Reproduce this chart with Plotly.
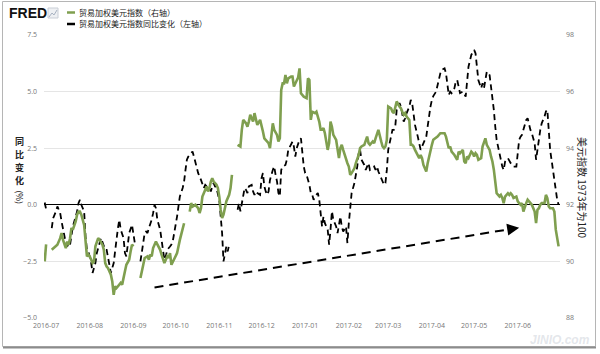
import plotly.graph_objects as go

# ---------------- data ----------------
green_dates = [
    "2016-06-30", "2016-07-01", "2016-07-04",
    "2016-07-05", "2016-07-09", "2016-07-11", "2016-07-12", "2016-07-13", "2016-07-15", "2016-07-16",
    "2016-07-17", "2016-07-18", "2016-07-19", "2016-07-20", "2016-07-22", "2016-07-23", "2016-07-24",
    "2016-07-25", "2016-07-26", "2016-07-28", "2016-07-29", "2016-07-30", "2016-07-31", "2016-08-01",
    "2016-08-03", "2016-08-04", "2016-08-05", "2016-08-06", "2016-08-07", "2016-08-08", "2016-08-10",
    "2016-08-11", "2016-08-12", "2016-08-13", "2016-08-14", "2016-08-16", "2016-08-17", "2016-08-18",
    "2016-08-19", "2016-08-20", "2016-08-22", "2016-08-23", "2016-08-24", "2016-08-25", "2016-08-26",
    "2016-08-27", "2016-08-29", "2016-08-30", "2016-08-31", "2016-09-01", "2016-09-05",
    "2016-09-06", "2016-09-07", "2016-09-08", "2016-09-09", "2016-09-11", "2016-09-12", "2016-09-13",
    "2016-09-14", "2016-09-15", "2016-09-17", "2016-09-18", "2016-09-19", "2016-09-20", "2016-09-21",
    "2016-09-23", "2016-09-24", "2016-09-25", "2016-09-26", "2016-09-27", "2016-09-28", "2016-09-30",
    "2016-10-02", "2016-10-04", "2016-10-06", "2016-10-07", "2016-10-10",
    "2016-10-11", "2016-10-12", "2016-10-13", "2016-10-15", "2016-10-17", "2016-10-18", "2016-10-19",
    "2016-10-20", "2016-10-21", "2016-10-23", "2016-10-24", "2016-10-25", "2016-10-26", "2016-10-27",
    "2016-10-28", "2016-10-30", "2016-10-31", "2016-11-01", "2016-11-02", "2016-11-03", "2016-11-04",
    "2016-11-05", "2016-11-06", "2016-11-08", "2016-11-09", "2016-11-10", "2016-11-11",
    "2016-11-14", "2016-11-16", "2016-11-17", "2016-11-18", "2016-11-20", "2016-11-21", "2016-11-22",
    "2016-11-23", "2016-11-24", "2016-11-25", "2016-11-26", "2016-11-27", "2016-11-28", "2016-11-30",
    "2016-12-01", "2016-12-02", "2016-12-03", "2016-12-05", "2016-12-06", "2016-12-07", "2016-12-08",
    "2016-12-09", "2016-12-10", "2016-12-12", "2016-12-13", "2016-12-14", "2016-12-15", "2016-12-16",
    "2016-12-17", "2016-12-18", "2016-12-19", "2016-12-20", "2016-12-22", "2016-12-23", "2016-12-24",
    "2016-12-25", "2016-12-27", "2016-12-28", "2016-12-29", "2016-12-31",
    "2017-01-02", "2017-01-03", "2017-01-04", "2017-01-05", "2017-01-06", "2017-01-08", "2017-01-09",
    "2017-01-11", "2017-01-12", "2017-01-13", "2017-01-14", "2017-01-15", "2017-01-17", "2017-01-18",
    "2017-01-19", "2017-01-20", "2017-01-21", "2017-01-23", "2017-01-24", "2017-01-25", "2017-01-26",
    "2017-01-27", "2017-01-28", "2017-01-30", "2017-01-31",
    "2017-02-01", "2017-02-02", "2017-02-03", "2017-02-05", "2017-02-06", "2017-02-07", "2017-02-08",
    "2017-02-09", "2017-02-10", "2017-02-12", "2017-02-13", "2017-02-14", "2017-02-15", "2017-02-16",
    "2017-02-18", "2017-02-19", "2017-02-20", "2017-02-21", "2017-02-22", "2017-02-24", "2017-02-25",
    "2017-02-26", "2017-02-27", "2017-02-28",
    "2017-03-01", "2017-03-03", "2017-03-04", "2017-03-05", "2017-03-06", "2017-03-07", "2017-03-09",
    "2017-03-10", "2017-03-11", "2017-03-12", "2017-03-13", "2017-03-14", "2017-03-16", "2017-03-17",
    "2017-03-18", "2017-03-19", "2017-03-20", "2017-03-22", "2017-03-23", "2017-03-24", "2017-03-25",
    "2017-03-26", "2017-03-28", "2017-03-29", "2017-03-30", "2017-03-31",
    "2017-04-01", "2017-04-02", "2017-04-05", "2017-04-07", "2017-04-10", "2017-04-11", "2017-04-12",
    "2017-04-13", "2017-04-14", "2017-04-15", "2017-04-17", "2017-04-18", "2017-04-19", "2017-04-20",
    "2017-04-21", "2017-04-23", "2017-04-24", "2017-04-25", "2017-04-26", "2017-04-27", "2017-04-29",
    "2017-04-30",
    "2017-05-01", "2017-05-02", "2017-05-03", "2017-05-04", "2017-05-06", "2017-05-07", "2017-05-08",
    "2017-05-09", "2017-05-10", "2017-05-12", "2017-05-13", "2017-05-14", "2017-05-15", "2017-05-16",
    "2017-05-17", "2017-05-19", "2017-05-20", "2017-05-21", "2017-05-22", "2017-05-23", "2017-05-25",
    "2017-05-26", "2017-05-27", "2017-05-28", "2017-05-29", "2017-05-31",
    "2017-06-01", "2017-06-02", "2017-06-03", "2017-06-04", "2017-06-05", "2017-06-07", "2017-06-08",
    "2017-06-09", "2017-06-10", "2017-06-11", "2017-06-13", "2017-06-14", "2017-06-15", "2017-06-16",
    "2017-06-17", "2017-06-18", "2017-06-20", "2017-06-21", "2017-06-22", "2017-06-23", "2017-06-24",
    "2017-06-26", "2017-06-27", "2017-06-28", "2017-06-30",
]
green_values = [
    90.00, 90.60, None,
    90.41, 90.59, 90.82, 91.00, 90.76, 90.47, 90.70,
    90.59, 90.82, 91.18, 91.12, 91.41, 91.65, 91.76,
    91.76, 91.65, 91.29, 90.70, 90.18, 90.24, 90.18,
    89.94, 90.00, 90.53, 90.70, 90.82, 90.76, 90.59,
    90.41, 89.94, 89.82, 89.76, 89.53, 89.29, 88.82,
    89.12, 89.06, 89.18, 89.24, 89.18, 89.47, 89.65,
    89.88, 90.06, 90.35, 90.59, 90.53, None,
    89.41, 89.71, 89.88, 90.12, 90.18, 90.06, 90.24,
    90.18, 90.47, 90.70, 90.59, 90.53, 90.41, 90.24,
    89.94, 90.06, 90.18, 90.12, 90.29, 89.88, 90.06,
    90.29, 90.76, 91.23, 91.35, None,
    91.76, 92.06, 91.94, 92.00, 91.88, 91.71, 91.88,
    92.29, 92.41, 92.65, 92.47, 92.59, 92.82, 92.94,
    92.82, 92.71, 92.59, 92.29, 91.82, 91.53, 91.65,
    91.88, 92.12, 92.35, 92.59, 93.06, None,
    94.12, 94.06, 94.65, 95.00, 94.88, 94.76, 94.94,
    95.18, 95.06, 94.94, 95.24, 95.00, 94.82, 95.00,
    94.82, 94.59, 94.35, 94.24, 94.18, 94.00, 94.41,
    94.88, 94.65, 94.47, 94.24, 94.35, 96.06, 96.29,
    96.29, 96.59, 96.29, 96.47, 96.53, 96.53, 96.18,
    96.30, 96.50, 96.82, 95.94, 95.82,
    95.77, 96.47, 96.41, 95.00, 95.29, 95.24, 95.29,
    94.94, 94.65, 94.65, 94.71, 94.53, 93.94, 94.18,
    94.94, 94.76, 94.47, 94.29, 93.88, 93.65, 94.00,
    94.12, 93.94, 93.59, 93.47,
    93.35, 93.06, 93.12, 93.29, 93.47, 93.59, 93.76,
    94.00, 94.06, 94.12, 94.24, 94.41, 94.18, 94.12,
    94.24, 94.18, 94.35, 94.53, 94.65, 94.24, 94.06,
    94.00, 94.06, 94.29,
    95.47, 95.41, 95.29, 95.24, 95.41, 95.65, 95.47,
    95.41, 95.29, 95.18, 95.24, 95.12, 95.00, 94.12,
    94.12, 94.06, 93.94, 93.71, 93.65, 93.76, 93.65,
    93.41, 93.18, 93.47, 93.71, 93.94,
    94.12, 94.30, 94.41, 94.53, 94.53, 94.41, 94.24,
    94.00, 94.06, 93.88, 93.76, 93.65, 93.59, 93.88,
    93.82, 93.94, 93.53, 93.47, 93.71, 93.65, 93.88,
    93.82,
    93.71, 93.82, 93.76, 93.59, 93.65, 94.06, 94.18,
    94.35, 94.12, 93.94, 93.71, 93.53, 93.24, 92.77,
    92.41, 92.29, 92.35, 92.24, 92.06, 92.29, 92.41,
    92.35, 92.41, 92.35, 92.24, 92.29,
    92.12, 92.06, 92.00, 92.06, 91.76, 92.06, 92.18,
    92.12, 92.06, 92.00, 91.76, 91.35, 91.82, 91.88,
    92.00, 92.06, 92.06, 92.35, 92.24, 91.94, 91.88,
    91.88, 91.76, 91.12, 90.53,
]

black_dates = [
    "2016-06-30", "2016-07-01", "2016-07-04",
    "2016-07-05", "2016-07-06", "2016-07-08", "2016-07-09", "2016-07-10", "2016-07-11", "2016-07-12",
    "2016-07-13", "2016-07-15", "2016-07-16", "2016-07-17", "2016-07-18", "2016-07-19", "2016-07-20",
    "2016-07-22", "2016-07-23", "2016-07-24", "2016-07-25", "2016-07-26", "2016-07-28", "2016-07-29",
    "2016-07-30", "2016-07-31", "2016-08-01", "2016-08-02", "2016-08-03", "2016-08-05", "2016-08-06",
    "2016-08-07", "2016-08-08", "2016-08-09", "2016-08-10", "2016-08-12", "2016-08-13", "2016-08-14",
    "2016-08-15", "2016-08-16", "2016-08-18", "2016-08-19", "2016-08-20", "2016-08-21", "2016-08-22",
    "2016-08-23", "2016-08-25", "2016-08-26", "2016-08-27", "2016-08-28", "2016-08-29", "2016-08-31",
    "2016-09-01", "2016-09-02", "2016-09-05",
    "2016-09-06", "2016-09-08", "2016-09-09", "2016-09-10", "2016-09-11", "2016-09-12", "2016-09-14",
    "2016-09-15", "2016-09-16", "2016-09-17", "2016-09-18", "2016-09-20", "2016-09-21", "2016-09-22",
    "2016-09-23", "2016-09-24", "2016-09-25", "2016-09-27", "2016-09-28", "2016-09-29", "2016-10-01",
    "2016-10-02", "2016-10-03", "2016-10-04", "2016-10-06", "2016-10-07", "2016-10-08", "2016-10-09",
    "2016-10-10", "2016-10-12", "2016-10-13", "2016-10-14", "2016-10-15", "2016-10-16", "2016-10-17",
    "2016-10-19", "2016-10-20", "2016-10-21", "2016-10-22", "2016-10-23", "2016-10-25", "2016-10-26",
    "2016-10-27", "2016-10-28", "2016-10-29", "2016-10-30", "2016-11-01", "2016-11-02", "2016-11-03",
    "2016-11-04", "2016-11-05", "2016-11-06", "2016-11-07", "2016-11-08", "2016-11-11",
    "2016-11-14", "2016-11-15", "2016-11-16", "2016-11-18", "2016-11-19", "2016-11-20", "2016-11-21",
    "2016-11-22", "2016-11-24", "2016-11-25", "2016-11-26", "2016-11-27", "2016-11-28", "2016-11-30",
    "2016-12-01", "2016-12-02", "2016-12-03", "2016-12-04", "2016-12-05", "2016-12-06", "2016-12-07",
    "2016-12-09", "2016-12-10", "2016-12-11", "2016-12-12", "2016-12-13", "2016-12-14", "2016-12-15",
    "2016-12-16", "2016-12-18", "2016-12-19", "2016-12-20", "2016-12-21", "2016-12-23", "2016-12-24",
    "2016-12-25", "2016-12-26", "2016-12-28", "2016-12-29", "2016-12-30", "2016-12-31",
    "2017-01-01", "2017-01-02", "2017-01-04", "2017-01-05", "2017-01-06", "2017-01-07", "2017-01-08",
    "2017-01-10", "2017-01-11", "2017-01-12", "2017-01-13", "2017-01-14", "2017-01-15", "2017-01-17",
    "2017-01-18", "2017-01-19", "2017-01-20", "2017-01-21", "2017-01-23", "2017-01-24", "2017-01-25",
    "2017-01-26", "2017-01-27", "2017-01-28", "2017-01-30", "2017-01-31",
    "2017-02-01", "2017-02-02", "2017-02-03", "2017-02-05", "2017-02-06", "2017-02-07", "2017-02-08",
    "2017-02-09", "2017-02-10", "2017-02-12", "2017-02-13", "2017-02-14", "2017-02-15", "2017-02-16",
    "2017-02-18", "2017-02-19", "2017-02-20", "2017-02-21", "2017-02-22", "2017-02-24", "2017-02-25",
    "2017-02-26", "2017-02-27", "2017-02-28",
    "2017-03-01", "2017-03-03", "2017-03-04", "2017-03-05", "2017-03-06", "2017-03-07", "2017-03-09",
    "2017-03-10", "2017-03-11", "2017-03-12", "2017-03-13", "2017-03-14", "2017-03-16", "2017-03-17",
    "2017-03-18", "2017-03-19", "2017-03-20", "2017-03-22", "2017-03-23", "2017-03-24", "2017-03-25",
    "2017-03-26", "2017-03-28", "2017-03-29", "2017-03-30", "2017-03-31",
    "2017-04-01", "2017-04-02", "2017-04-04", "2017-04-05", "2017-04-06", "2017-04-07", "2017-04-08",
    "2017-04-10", "2017-04-11", "2017-04-12", "2017-04-13", "2017-04-14", "2017-04-15", "2017-04-17",
    "2017-04-18", "2017-04-19", "2017-04-20", "2017-04-21", "2017-04-23", "2017-04-24", "2017-04-25",
    "2017-04-26", "2017-04-27", "2017-04-29", "2017-04-30",
    "2017-05-01", "2017-05-02", "2017-05-03", "2017-05-04", "2017-05-06", "2017-05-07", "2017-05-08",
    "2017-05-09", "2017-05-10", "2017-05-12", "2017-05-13", "2017-05-14", "2017-05-15", "2017-05-16",
    "2017-05-17", "2017-05-19", "2017-05-20", "2017-05-21", "2017-05-22", "2017-05-23", "2017-05-25",
    "2017-05-26", "2017-05-27", "2017-05-28", "2017-05-29", "2017-05-31",
    "2017-06-01", "2017-06-02", "2017-06-03", "2017-06-04", "2017-06-05", "2017-06-07", "2017-06-08",
    "2017-06-09", "2017-06-10", "2017-06-11", "2017-06-13", "2017-06-14", "2017-06-15", "2017-06-16",
    "2017-06-17", "2017-06-18", "2017-06-20", "2017-06-21", "2017-06-22", "2017-06-23", "2017-06-24",
    "2017-06-26", "2017-06-27", "2017-06-28", "2017-06-29", "2017-06-30",
]
black_values = [
    0.10, -0.20, None,
    -1.03, -0.59, -0.29, -0.07, -0.22, -0.37, -0.74,
    -1.10, -1.69, -1.84, -1.69, -1.76, -1.25, -0.96,
    -0.52, -0.29, 0.07, 0.22, 0.00, -0.29, -1.40,
    -1.99, -2.06, -2.28, -2.57, -3.01, -2.57, -2.13,
    -1.84, -1.69, -1.47, -1.62, -1.99, -1.99, -2.28,
    -2.72, -3.01, -2.57, -1.99, -1.40, -1.03, -0.66,
    -1.10, -1.47, -2.13, -2.28, -1.84, -1.25, -0.88,
    -1.40, -1.69, None,
    -2.50, -1.69, -1.25, -1.18, -1.25, -1.03, -0.66,
    -0.37, 0.00, -0.15, -0.66, -1.10, -1.54, -1.99,
    -2.43, -2.28, -1.99, -1.84, -1.76, -1.60, -0.96,
    -0.52, -0.07, 0.37, 0.74, 1.03, 1.54, 1.99,
    2.13, 2.28, 2.35, 2.13, 1.91, 1.69, 1.40,
    1.10, 0.88, 0.74, 0.88, 0.81, 0.74, 0.59,
    0.81, 0.96, 0.81, 0.74, 0.22, -0.37, -1.25,
    -2.50, -2.13, -1.84, -2.06, -1.76, None,
    -0.22, 0.07, -0.29, 0.52, 0.74, 0.66, 0.52,
    0.81, 0.88, 0.59, 0.44, 0.59, 0.52, 0.44,
    1.18, 1.40, 0.81, 0.59, 0.44, 0.59, 1.10,
    1.54, 1.69, 1.32, 1.03, 0.52, 0.37, 1.54,
    1.69, 1.76, 1.99, 2.43, 2.57, 2.79, 2.57,
    2.13, 2.50, 2.87, 2.94, 2.13, 1.69,
    1.40, 1.32, 0.88, 0.52, 0.44, 0.22, 0.37,
    0.52, 0.22, -0.52, -0.96, -0.52, -0.81, -1.10,
    -1.76, -1.10, -0.29, -0.66, -0.96, -1.25, -0.96,
    -0.52, -0.96, -1.18, -0.96, -1.69,
    -0.81, 0.07, 0.52, 0.96, 1.32, 1.69, 2.28,
    2.43, 1.99, 1.76, 1.54, 1.69, 1.84, 1.54,
    1.62, 1.69, 1.54, 1.69, 1.47, 1.18, 0.96,
    0.88, 0.96, 1.54,
    2.43, 2.94, 3.31, 3.31, 3.46, 4.19, 4.49,
    4.34, 3.97, 3.67, 3.82, 4.04, 4.34, 4.63,
    4.49, 4.04, 3.53, 3.01, 2.65, 2.43, 2.57,
    2.72, 3.01, 3.46, 3.97, 4.34,
    4.63, 4.80, 5.00, 5.29, 5.59, 5.81, 5.96,
    6.03, 5.81, 5.37, 4.85, 5.00, 4.93, 5.15,
    5.44, 5.51, 5.22, 4.93, 5.00, 4.85, 4.78,
    5.44, 6.10, 6.62, 6.76,
    6.84, 6.69, 6.10, 5.51, 5.15, 5.37, 5.15,
    5.44, 5.88, 5.73, 5.29, 4.78, 4.19, 3.46,
    2.87, 2.28, 1.91, 1.69, 1.54, 1.91, 2.06,
    1.91, 1.84, 1.76, 1.69, 1.69,
    2.21, 2.87, 3.01, 3.09, 3.31, 3.75, 3.82,
    3.53, 3.31, 3.16, 2.72, 1.99, 2.35, 2.87,
    3.31, 3.60, 3.90, 4.12, 4.19, 3.46, 2.43,
    1.54, 0.96, 0.66, 0.22, 0.00,
]

left_ticks = [-5.0, -2.5, 0.0, 2.5, 5.0, 7.5]
right_ticks = [88, 90, 92, 94, 96, 98]
month_ticks = ["2016-07-01", "2016-08-01", "2016-09-01", "2016-10-01", "2016-11-01", "2016-12-01",
               "2017-01-01", "2017-02-01", "2017-03-01", "2017-04-01", "2017-05-01", "2017-06-01"]
month_labels = ["2016-07", "2016-08", "2016-09", "2016-10", "2016-11", "2016-12",
                "2017-01", "2017-02", "2017-03", "2017-04", "2017-05", "2017-06"]
x_range = ["2016-06-29 12:00", "2017-07-01"]

# hand-drawn trend arrow (date, % change)
trend_dates = ["2016-09-16", "2017-05-27"]
trend_values = [-3.65, -1.07]
trend_tip_date = "2017-06-02"
trend_tip_value = -1.01

legend_labels = ["贸易加权美元指数（右轴）", "贸易加权美元指数同比变化（左轴）"]
left_title_chars = ["同", "比", "变", "化"]
left_title_unit = "(%)"
right_title = "美元指数 1973年为100"

# ---------------- layout helpers ----------------
W, H = 600, 354
L, R, T, B = 44, 40, 35, 36
PW, PH = W - L - R, H - T - B


def px(x):
    return (x - L) / PW


def py(y):
    return (H - B - y) / PH


GREEN = "#7f9f4f"
TICKFONT = dict(family="Open Sans, DejaVu Sans", size=7, color="#777777")
CJK = "Noto Sans CJK SC"

fig = go.Figure()

fig.add_trace(go.Scatter(
    x=black_dates, y=black_values, mode="lines", yaxis="y",
    line=dict(color="black", width=1.8, dash="6px,4px"),
    connectgaps=False, hoverinfo="skip", showlegend=False,
))
fig.add_trace(go.Scatter(
    x=green_dates, y=green_values, mode="lines", yaxis="y2",
    line=dict(color=GREEN, width=2.6),
    connectgaps=False, hoverinfo="skip", showlegend=False,
))
fig.add_trace(go.Scatter(
    x=trend_dates, y=trend_values, mode="lines", yaxis="y",
    line=dict(color="black", width=2, dash="9px,6px"),
    hoverinfo="skip", showlegend=False,
))

annotations = []
# arrow head of the trend line
annotations.append(dict(
    x=trend_tip_date, y=trend_tip_value, xref="x", yref="y",
    ax=trend_dates[-1], ay=trend_values[-1], axref="x", ayref="y",
    showarrow=True, arrowhead=2, arrowsize=1.2, arrowwidth=2,
    arrowcolor="black", text="",
))
# FRED logo
annotations.append(dict(
    x=px(7), y=py(12.5), xref="paper", yref="paper", xanchor="left", yanchor="middle",
    text="<b>FRED</b>", showarrow=False,
    font=dict(family="Liberation Sans, Arial", size=14, color="#111111"),
))
# legend texts
for i, lab in enumerate(legend_labels):
    annotations.append(dict(
        x=px(76.5), y=py(12 + 12 * i), xref="paper", yref="paper",
        xanchor="left", yanchor="middle", text=lab, showarrow=False,
        font=dict(family=CJK, size=8, color="#222222"),
    ))
# left axis title (stacked characters, one annotation each)
for i, ch in enumerate(left_title_chars):
    annotations.append(dict(
        x=px(19.5), y=py(141 + 13 * i), xref="paper", yref="paper",
        xanchor="center", yanchor="middle", text="<b>%s</b>" % ch, showarrow=False,
        font=dict(family=CJK, size=9, color="#222222"),
    ))
annotations.append(dict(
    x=px(19.5), y=py(197), xref="paper", yref="paper", xanchor="center", yanchor="middle",
    text=left_title_unit, showarrow=False, textangle=90,
    font=dict(family=CJK, size=8.5, color="#222222"),
))
# right axis title
annotations.append(dict(
    x=px(583), y=py(188), xref="paper", yref="paper", xanchor="center", yanchor="middle",
    text=right_title, showarrow=False, textangle=90,
    font=dict(family=CJK, size=10, color="#222222"),
))
# faint watermark (kept below the tick labels)
annotations.append(dict(
    x=px(592), y=py(340), xref="paper", yref="paper", xanchor="right", yanchor="middle",
    text="<b><i>JINIO.com</i></b>", showarrow=False,
    font=dict(family="Liberation Sans, Arial", size=12, color="rgba(205,210,218,0.55)"),
))

shapes = [
    # legend line samples
    dict(type="line", xref="paper", yref="paper", x0=px(67), x1=px(75), y0=py(12.5), y1=py(12.5),
         line=dict(color=GREEN, width=2.5)),
    dict(type="line", xref="paper", yref="paper", x0=px(67), x1=px(75), y0=py(24), y1=py(24),
         line=dict(color="black", width=2.5)),
    # small chart icon next to FRED
    dict(type="rect", xref="paper", yref="paper", x0=px(48), x1=px(58), y0=py(18), y1=py(8),
         line=dict(color="#c9ced6", width=1), fillcolor="#eef0f3"),
    dict(type="path", xref="paper", yref="paper",
         path="M %f %f L %f %f L %f %f L %f %f" % (px(49), py(17), px(52), py(13), px(54), py(15), px(57), py(10)),
         line=dict(color="#a9b3c2", width=1)),
    # outer frame
    dict(type="rect", xref="paper", yref="paper", x0=px(2.5), x1=px(595.5), y0=py(346.5), y1=py(1.5),
         line=dict(color="#b5b5b5", width=1), fillcolor="rgba(0,0,0,0)", layer="above"),
    dict(type="line", xref="paper", yref="paper", x0=px(3), x1=px(596), y0=py(347.5), y1=py(347.5),
         line=dict(color="#8c8c8c", width=2)),
]

fig.update_layout(
    width=W, height=H,
    margin=dict(l=L, r=R, t=T, b=B, pad=0),
    paper_bgcolor="white", plot_bgcolor="white",
    showlegend=False,
    xaxis=dict(
        type="date", range=x_range, tickvals=month_ticks, ticktext=month_labels,
        showgrid=False, showline=False, zeroline=False, ticks="",
        tickfont=TICKFONT, ticklabelstandoff=2,
    ),
    yaxis=dict(
        range=[left_ticks[0], left_ticks[-1]], tickvals=left_ticks, tickformat=".1f",
        showgrid=True, gridcolor="#e5e5e5", gridwidth=1,
        zeroline=True, zerolinecolor="black", zerolinewidth=1.2,
        showline=False, ticks="", tickfont=TICKFONT, ticklabelstandoff=6,
    ),
    yaxis2=dict(
        range=[right_ticks[0], right_ticks[-1]], tickvals=right_ticks,
        overlaying="y", side="right", showgrid=False, zeroline=False,
        showline=False, ticks="", tickfont=TICKFONT, ticklabelstandoff=5,
    ),
    annotations=annotations,
    shapes=shapes,
)

fig.write_html("out.html")
